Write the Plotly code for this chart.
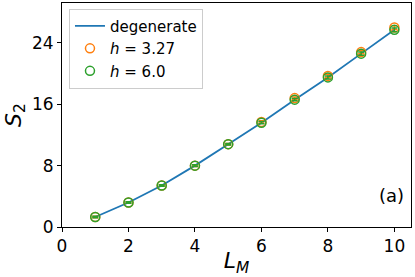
import plotly.graph_objects as go

L = [1, 2, 3, 4, 5, 6, 7, 8, 9, 10]
degenerate = [1.3, 3.2, 5.4, 8.0, 10.8, 13.6, 16.6, 19.5, 22.6, 25.7]
h327 = [1.3, 3.2, 5.4, 8.0, 10.8, 13.7, 16.8, 19.7, 22.8, 26.0]
h327_err = [0.1, 0.1, 0.1, 0.1, 0.1, 0.15, 0.15, 0.2, 0.2, 0.25]
h60 = [1.3, 3.2, 5.4, 8.0, 10.8, 13.6, 16.6, 19.5, 22.6, 25.7]
h60_err = [0.1, 0.1, 0.1, 0.1, 0.1, 0.15, 0.15, 0.2, 0.2, 0.25]

blue = "#1f77b4"
orange = "#ff7f0e"
green = "#2ca02c"

fig = go.Figure()
fig.add_trace(go.Scatter(x=L, y=degenerate, mode="lines", name="degenerate",
                         line=dict(color=blue, width=1.8)))
fig.add_trace(go.Scatter(x=L, y=h327, mode="markers", name="<i>h</i> = 3.27",
                         marker=dict(symbol="circle-open", size=9, color=orange, line=dict(width=1.5)),
                         error_y=dict(type="data", array=h327_err, color=orange, thickness=1.5, width=3)))
fig.add_trace(go.Scatter(x=L, y=h60, mode="markers", name="<i>h</i> = 6.0",
                         marker=dict(symbol="circle-open", size=9, color=green, line=dict(width=1.5)),
                         error_y=dict(type="data", array=h60_err, color=green, thickness=1.5, width=3)))

fig.add_annotation(x=0.985, y=0.085, xref="paper", yref="paper", text="(a)", showarrow=False,
                   xanchor="right", yanchor="bottom", font=dict(size=18, color="black"))

axis_common = dict(showline=True, linecolor="black", linewidth=1, mirror=True,
                   ticks="outside", ticklen=4, tickcolor="black", showgrid=False, zeroline=False,
                   tickfont=dict(size=17, color="black", family="DejaVu Sans"))

fig.update_layout(
    width=415, height=277,
    margin=dict(l=62, r=4, t=3, b=50),
    plot_bgcolor="white", paper_bgcolor="white",
    font=dict(family="DejaVu Sans", color="black"),
    xaxis=dict(range=[0, 10.5], tickvals=[0, 2, 4, 6, 8, 10],
               title=dict(text="<i>L</i><sub><i>M</i></sub>", font=dict(size=22), standoff=2), **axis_common),
    yaxis=dict(range=[0, 29.2], tickvals=[0, 8, 16, 24],
               title=dict(text="<i>S</i><sub>2</sub>", font=dict(size=22), standoff=4), **axis_common),
    legend=dict(x=0.02, y=0.975, xanchor="left", yanchor="top", bgcolor="white",
                bordercolor="#cccccc", borderwidth=1, font=dict(size=15), tracegroupgap=0,
                itemwidth=30),
    showlegend=True,
)

fig.write_html("out.html", config={"displayModeBar": False},
               post_script="document.body.style.margin='0';document.body.style.padding='0';")
